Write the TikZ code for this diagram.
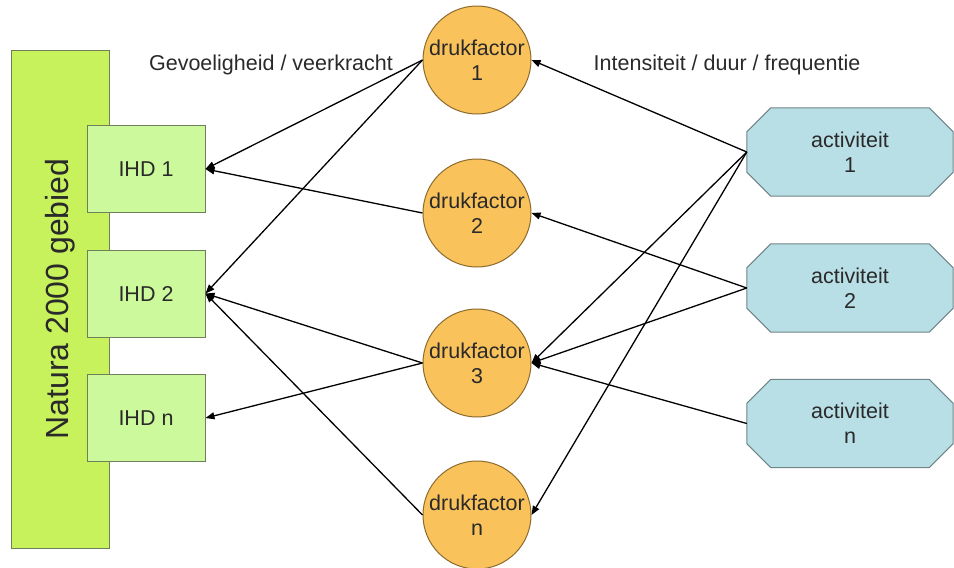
\documentclass[tikz,border=0pt]{standalone}
\usepackage{fontspec}
\setmainfont{Liberation Sans}
\usetikzlibrary{arrows.meta,calc,backgrounds}
\definecolor{natgreen}{HTML}{C8F25C}
\definecolor{natborder}{HTML}{6E7F5A}
\definecolor{ihdgreen}{HTML}{CCF99C}
\definecolor{drukfill}{HTML}{F9C25A}
\definecolor{drukborder}{HTML}{8C6A2E}
\definecolor{actfill}{HTML}{B8DFE5}
\definecolor{actborder}{HTML}{6F8588}
\definecolor{txt}{HTML}{2A2A2A}
\newcommand{\actoct}[1]{%
  \filldraw[actshape] ($(#1.north west)+(24,0)$) -- ($(#1.north east)+(-24,0)$)
    -- ($(#1.north east)+(0,24)$) -- ($(#1.south east)+(0,-24)$)
    -- ($(#1.south east)+(-24,0)$) -- ($(#1.south west)+(24,0)$)
    -- ($(#1.south west)+(0,-24)$) -- ($(#1.north west)+(0,24)$) -- cycle;}
\begin{document}
\begin{tikzpicture}[x=1pt,y=-1pt,
  every node/.style={text=txt},
  natbox/.style={draw=natborder,fill=natgreen,line width=1pt,rotate=90,minimum width=498pt,minimum height=98pt,inner sep=0pt,font=\fontsize{32}{36}\selectfont},
  ihdbox/.style={draw=natborder,fill=ihdgreen,line width=1pt,minimum width=118pt,minimum height=87pt,inner sep=0pt,font=\fontsize{21.5}{25}\selectfont},
  drukcirc/.style={circle,draw=drukborder,fill=drukfill,line width=1pt,minimum size=108pt,inner sep=0pt,align=center,font=\fontsize{21.5}{25}\selectfont},
  actbox/.style={rectangle,minimum width=206pt,minimum height=88pt,inner sep=0pt,align=center,font=\fontsize{21.5}{25}\selectfont},
  actshape/.style={draw=actborder,fill=actfill,line width=1pt,line join=miter},
  lbl/.style={font=\fontsize{21.5}{25}\selectfont},
  conn/.style={line width=1.3pt,black,-{Triangle[length=9pt,width=7pt]}}
]
\useasboundingbox (0,0) rectangle (954,568);
\node[natbox] (nat) at (60,299) {Natura 2000 gebied};
\node[ihdbox] (ihd1) at (146,169) {IHD 1};
\node[ihdbox] (ihd2) at (146,293.5) {IHD 2};
\node[ihdbox] (ihdn) at (146,418) {IHD n};
\node[drukcirc] (d1) at (477,60) {drukfactor\\1};
\node[drukcirc] (d2) at (477,213) {drukfactor\\2};
\node[drukcirc] (d3) at (477,363) {drukfactor\\3};
\node[drukcirc] (dn) at (477,515) {drukfactor\\n};
\node[actbox] (a1) at (850,152) {activiteit\\1};
\node[actbox] (a2) at (850,288) {activiteit\\2};
\node[actbox] (an) at (850,423.5) {activiteit\\n};
\begin{scope}[on background layer]
  \actoct{a1}
  \actoct{a2}
  \actoct{an}
\end{scope}
\node[lbl] (l1) at (271,65) {Gevoeligheid / veerkracht};
\node[lbl] (l2) at (727,65) {Intensiteit / duur / frequentie};
\draw[conn] (d1.west) -- (ihd1.east);
\draw[conn] (d1.west) -- (ihd2.east);
\draw[conn] (d2.west) -- (ihd1.east);
\draw[conn] (d3.west) -- (ihd2.east);
\draw[conn] (d3.west) -- (ihdn.east);
\draw[conn] (dn.west) -- (ihd2.east);
\draw[conn] (a1.west) -- (d1.east);
\draw[conn] (a1.west) -- (d3.east);
\draw[conn] (a1.west) -- (dn.east);
\draw[conn] (a2.west) -- (d2.east);
\draw[conn] (a2.west) -- (d3.east);
\draw[conn] (an.west) -- (d3.east);
\end{tikzpicture}
\end{document}
